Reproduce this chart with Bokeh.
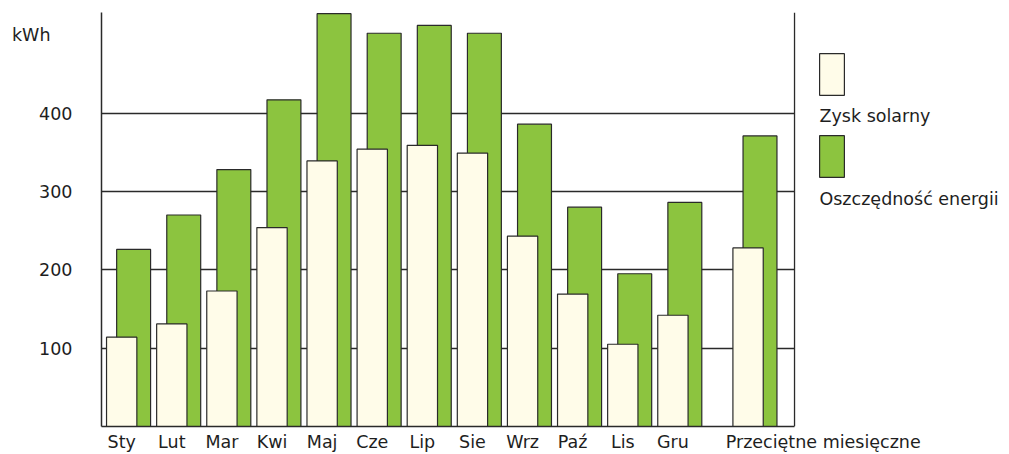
from bokeh.plotting import figure
from bokeh.models import (Range1d, FixedTicker, LinearAxis, Label, Legend,
                          LegendItem, ColumnDataSource, Span, BoxAnnotation)
from bokeh.embed import file_html
from bokeh.resources import INLINE

# ---- data ----
months = ["Sty", "Lut", "Mar", "Kwi", "Maj", "Cze", "Lip", "Sie", "Wrz",
          "Paź", "Lis", "Gru"]
avg_label = "Przeciętne miesięczne"
zysk_solarny = [114, 131, 173, 254, 339, 354, 359, 349, 243, 169, 105, 142, 228]
oszczednosc = [226, 270, 328, 417, 527, 502, 512, 502, 386, 280, 195, 286, 371]
y_ticks = [100, 200, 300, 400]
series_names = ["Zysk solarny", "Oszczędność energii"]
unit_label = "kWh"

# ---- styling ----
FONT = "DejaVu Sans"
FS = "17.5px"
TXT = "#1e1e1e"
LINE = "#2a2a2a"
GREEN = "#8cc43f"
CREAM = "#fffce9"

n = len(months)
xs = [float(i) for i in range(n)] + [n + 0.5]
src = ColumnDataSource(dict(
    xw=xs,
    xg=[x + 0.238 for x in xs],
    z=zysk_solarny,
    o=oszczednosc,
))

X0 = -0.403
X_EDGE = 13.427   # right border of the chart box

p = figure(width=1009, height=454,
           x_range=Range1d(X0, 17.717), y_range=Range1d(0, 528.5),
           output_backend="svg", toolbar_location=None,
           min_border_left=101, min_border_right=0,
           min_border_top=12, min_border_bottom=28)
p.outline_line_color = None
p.background_fill_color = "white"

# hide grid lines to the right of the chart box
p.add_layout(BoxAnnotation(left=X_EDGE, fill_color="white", fill_alpha=1,
                           line_alpha=0, level="underlay"))

green_r = p.vbar(x="xg", top="o", bottom=0, width=0.677, source=src,
                 fill_color=GREEN, line_color=LINE, line_width=1.2)
white_r = p.vbar(x="xw", top="z", bottom=0, width=0.605, source=src,
                 fill_color=CREAM, line_color=LINE, line_width=1.2)

# y axis
p.yaxis.ticker = FixedTicker(ticks=y_ticks)
p.yaxis.major_tick_out = 0
p.yaxis.major_tick_in = 0
p.yaxis.minor_tick_out = 0
p.yaxis.minor_tick_in = 0
p.yaxis.axis_line_color = LINE
p.yaxis.axis_line_width = 1.5
p.yaxis.major_label_standoff = 29
p.yaxis.major_label_text_font = FONT
p.yaxis.major_label_text_font_size = FS
p.yaxis.major_label_text_color = TXT

# outer left axis carrying the unit label
k_axis = LinearAxis(ticker=FixedTicker(ticks=[500]),
                    major_label_overrides={500: unit_label},
                    axis_line_color=None, major_tick_out=0, major_tick_in=0,
                    minor_tick_out=0, minor_tick_in=0,
                    major_label_standoff=-14,
                    major_label_text_font=FONT, major_label_text_font_size=FS,
                    major_label_text_color=TXT)
p.add_layout(k_axis, "left")

p.ygrid.ticker = FixedTicker(ticks=y_ticks)
p.ygrid.grid_line_color = LINE
p.ygrid.grid_line_width = 1.3
p.xgrid.visible = False

# bottom line of the chart box
p.xaxis.ticker = FixedTicker(ticks=[])
p.xaxis.bounds = (X0, X_EDGE)
p.xaxis.major_tick_out = 0
p.xaxis.major_tick_in = 0
p.xaxis.minor_tick_out = 0
p.xaxis.minor_tick_in = 0
p.xaxis.major_label_standoff = 0
p.xaxis.major_label_text_font_size = "0px"
p.xaxis.axis_line_color = LINE
p.xaxis.axis_line_width = 1.5

# category labels
cat_ticks = list(range(n)) + [14]
cat_axis = LinearAxis(ticker=FixedTicker(ticks=cat_ticks),
                      major_label_overrides={t: lab for t, lab in
                                             zip(cat_ticks, months + [avg_label])},
                      axis_line_color=None, major_tick_out=0, major_tick_in=0,
                      minor_tick_out=0, minor_tick_in=0,
                      major_label_standoff=5,
                      major_label_text_font=FONT, major_label_text_font_size=FS,
                      major_label_text_color=TXT)
p.add_layout(cat_axis, "below")

# right border of the chart box
p.add_layout(Span(location=X_EDGE, dimension="height", line_color=LINE,
                  line_width=1.3))

# legend (swatches; the glyph is drawn inset by 10% of its box)
legend = Legend(items=[LegendItem(label=" ", renderers=[white_r]),
                       LegendItem(label=" ", renderers=[green_r])],
                location=(715, 244), orientation="vertical",
                glyph_width=31, glyph_height=52, spacing=30,
                padding=0, margin=0, label_standoff=0,
                label_text_font_size="1px", label_width=1, label_height=1,
                border_line_alpha=0, background_fill_alpha=0)
p.add_layout(legend)

p.add_layout(Label(x=13.925, y=396, text=series_names[0], text_font=FONT,
                   text_font_size=FS, text_color=TXT, text_baseline="alphabetic"))
p.add_layout(Label(x=13.925, y=290, text=series_names[1], text_font=FONT,
                   text_font_size=FS, text_color=TXT, text_baseline="alphabetic"))

open("out.html", "w").write(file_html(p, INLINE))
